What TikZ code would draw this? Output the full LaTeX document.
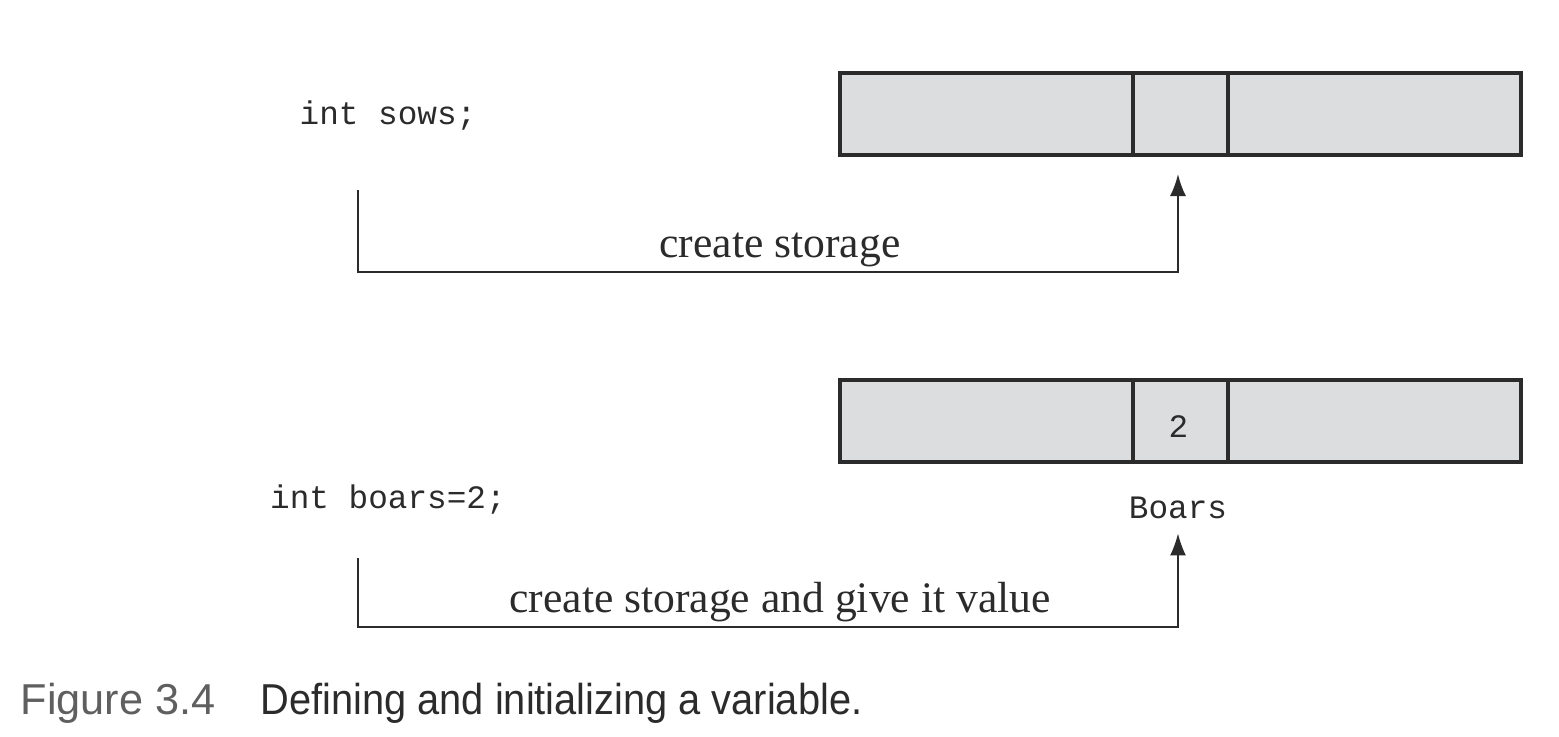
\documentclass[tikz,border=0pt]{standalone}
\usepackage{fontspec}
\setmainfont{Liberation Serif}
\setmonofont{Liberation Mono}
\newfontfamily\capfont[FakeStretch=0.92]{Liberation Sans}
\newfontfamily\fignumfont{Liberation Sans}
\usetikzlibrary{arrows.meta}
\definecolor{cellgray}{HTML}{DCDDDF}
\definecolor{inkdark}{HTML}{2B2B2B}
\definecolor{capgray}{HTML}{5F5F5F}
\begin{document}
\begin{tikzpicture}[x=0.01cm,y=-0.01cm,every path/.style={>={Latex[length=0.22cm,width=0.16cm]}},
	cell/.style={draw=inkdark,fill=cellgray,line width=0.04cm,minimum height=0.82cm,inner sep=0pt},
	code/.style={font=\ttfamily\fontsize{9.3}{11}\selectfont,text=inkdark},
	lbl/.style={font=\fontsize{12.4}{14}\selectfont,text=inkdark},
	conn/.style={draw=inkdark,line width=0.02cm}]
	\useasboundingbox (0,0) rectangle (1559,737);
	
	% code lines
	\node[code] (sows) at (388,116) {int sows;};
	\node[code] (boars) at (388,500) {int boars=2;};
	
	% draw memory rows
	\foreach \r/\y in {1/114,2/421}
	{
		\node[cell,minimum width=2.93cm] (m\r-l) at (986.5,\y) {};
		\node[cell,minimum width=2.93cm] (m\r-r) at (1374.5,\y) {};
		\node[cell,minimum width=0.95cm] (m\r-m) at (1180.5,\y) {};
	}
	\node[code] (val) at ([xshift=-0.02cm,yshift=-0.06cm]m2-m) {2};
	\node[code] (boarsname) at (1178,508) {Boars};
	
	% start points below the code
	\coordinate (s1) at (358,190);
	\coordinate (s2) at (358,558);
	
	% draw arrow "create storage"
	\draw[conn,->] (s1) -- ++(0,82) -| ([xshift=-0.025cm,yshift=-0.17cm]m1-m.south);
	\node[lbl] (t1) at (780,250) {create storage};
	
	% draw arrow "create storage and give it value"
	\draw[conn,->] (s2) -- ++(0,69) -| ([yshift=-0.02cm]boarsname.south);
	\node[lbl] (t2) at (780,602) {create storage and give it value};
	
	% caption
	\node[anchor=base west,font=\fignumfont\fontsize{12.3}{14}\selectfont,text=capgray,inner sep=0pt] (fig) at (20,715) {Figure 3.4};
	\node[anchor=base west,font=\capfont\fontsize{12.3}{14}\selectfont,text=inkdark,inner sep=0pt] (cap) at (260,715) {Defining and initializing a variable.};
\end{tikzpicture}
\end{document}
